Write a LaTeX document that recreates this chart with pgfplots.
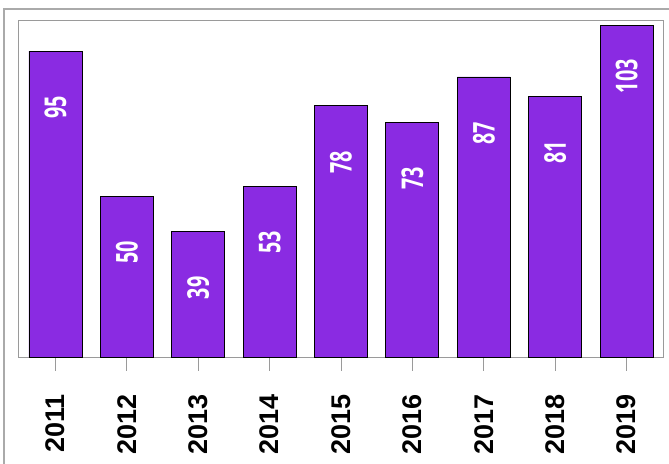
\documentclass[border=0pt]{standalone}
\usepackage{pgfplots}
\pgfplotsset{compat=1.18}
\usepackage{fontspec}
\setmainfont{Liberation Sans}
\newfontfamily\osans{Open Sans}
\definecolor{barc}{HTML}{8A2BE2}
\definecolor{frame}{HTML}{9A9A9A}
\definecolor{outer}{HTML}{AAAAAA}
\begin{document}
\begin{tikzpicture}[x=1pt,y=1pt]
\useasboundingbox (0,0) rectangle (669,463);
\draw[outer, line width=1.2pt] (4,-5) -- (4,454) -- (680,454);
\begin{axis}[
  at={(18pt,106pt)}, anchor=south west,
  scale only axis, width=645pt, height=337pt,
  xmin=-0.525, xmax=8.51, ymin=0, ymax=104.7,
  ytick=\empty,
  xtick=data,
  xticklabels={2011,2012,2013,2014,2015,2016,2017,2018,2019},
  tick pos=lower,
  tick align=outside,
  major tick length=14pt,
  tick style={frame, line width=0.8pt},
  axis line style={frame, line width=0.8pt},
  xticklabel style={yshift=-23pt, rotate=90, anchor=east, inner sep=0pt, font=\fontsize{27}{27}\selectfont\bfseries},
  /pgf/number format/assume math mode=true,
  nodes near coords={\scalebox{0.66}[1]{\osans\bfseries\fontsize{30}{30}\selectfont\pgfmathprintnumber{\pgfplotspointmeta}}},
  every node near coord/.append style={yshift=-68pt, rotate=90, anchor=west, inner sep=0pt, text=white},
]
\addplot[ybar, bar width=53pt, fill=barc, draw=black, line width=0.9pt] coordinates {
(0,95) (1,50) (2,39) (3,53) (4,78) (5,73) (6,87) (7,81) (8,103)
};
\end{axis}
\end{tikzpicture}
\end{document}
